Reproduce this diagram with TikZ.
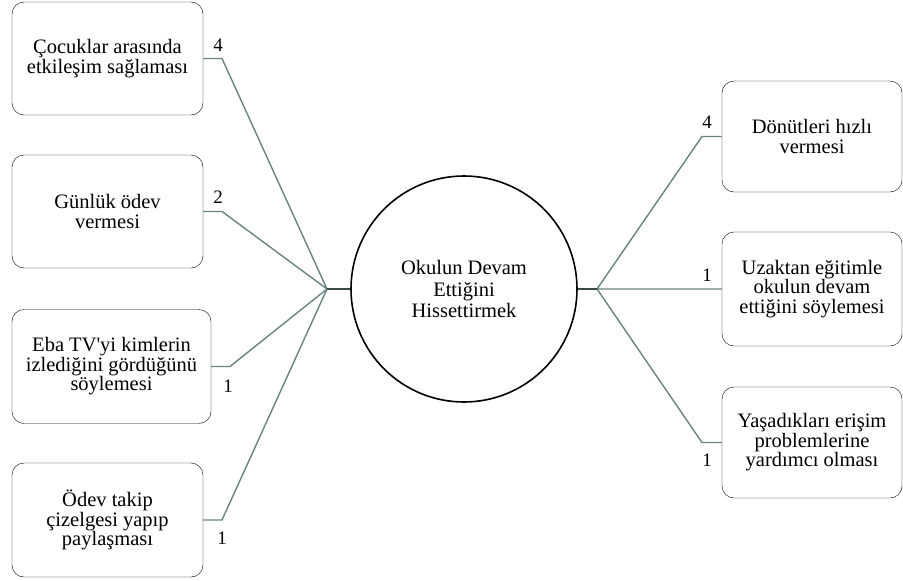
\documentclass[tikz,border=0pt]{standalone}
\usepackage{fontspec}
\setmainfont{Liberation Serif}[Ligatures=TeXOff]
\usepackage{tikz}
\usetikzlibrary{positioning}

\definecolor{linkgray}{RGB}{104,132,129}
\definecolor{stubgray}{RGB}{52,74,72}

\begin{document}
\begin{tikzpicture}[x=1pt,y=-1pt,semithick,
                    font=\fontsize{20.5}{19.5}\selectfont]
  \tikzstyle{item}=[draw,rounded corners=12pt,align=center,thin,
                    inner sep=0pt]
  \tikzstyle{link}=[draw=linkgray,line width=1.4pt]
  \tikzstyle{stub}=[draw=stubgray,line width=2pt]
  \tikzstyle{count}=[inner sep=1pt,font=\fontsize{19}{19}\selectfont]

  \useasboundingbox (0,0) rectangle (903,581);

  % centre
  \node[circle,draw,line width=1.6pt,minimum size=226pt,align=center,
        font=\fontsize{20.5}{21.5}\selectfont]
       (main) at (464,289) {Okulun Devam\\Ettiğini\\Hissettirmek};
  \coordinate (jl) at (327,289);
  \coordinate (jr) at (597,289);

  % left side
  \node[item,minimum width=191pt,minimum height=113pt] (a) at (107.5,58.5)
       {Çocuklar arasında\\etkileşim sağlaması};
  \node[item,minimum width=191pt,minimum height=113pt] (b) at (107.5,211.5)
       {Günlük ödev\\vermesi};
  \node[item,minimum width=199pt,minimum height=114pt] (c) at (111.5,366.5)
       {Eba TV'yi kimlerin\\izlediğini gördüğünü\\söylemesi};
  \node[item,minimum width=191pt,minimum height=114pt] (d) at (107.5,520)
       {Ödev takip\\çizelgesi yapıp\\paylaşması};

  % right side
  \node[item,minimum width=180pt,minimum height=111pt] (e) at (812,136.5)
       {Dönütleri hızlı\\vermesi};
  \node[item,minimum width=180pt,minimum height=114pt] (f) at (812,289)
       {Uzaktan eğitimle\\okulun devam\\ettiğini söylemesi};
  \node[item,minimum width=180pt,minimum height=111pt] (g) at (812,442.5)
       {Yaşadıkları erişim\\problemlerine\\yardımcı olması};

  % bends
  \coordinate (ka) at (222,58.5);
  \coordinate (kb) at (222,211.5);
  \coordinate (kc) at (230,366.5);
  \coordinate (kd) at (222,520);
  \coordinate (ke) at (702,136.5);
  \coordinate (kg) at (702,442.5);

  \path[link] (a.east) -- (ka) -- (jl)
              (b.east) -- (kb) -- (jl)
              (c.east) -- (kc) -- (jl)
              (d.east) -- (kd) -- (jl)
              (jr) -- (ke) -- (e.west)
              (jr) -- (f.west)
              (jr) -- (kg) -- (g.west)
  ; %end path
  \path[stub] (jl) -- (main.west)
              (main.east) -- (jr);

  \node[count] (na) at (218,45)  {4};
  \node[count] (nb) at (218,197) {2};
  \node[count] (nc) at (228,386) {1};
  \node[count] (nd) at (222,538) {1};
  \node[count] (ne) at (707,122) {4};
  \node[count] (nf) at (707,275) {1};
  \node[count] (ng) at (707,460) {1};
\end{tikzpicture}
\end{document}
